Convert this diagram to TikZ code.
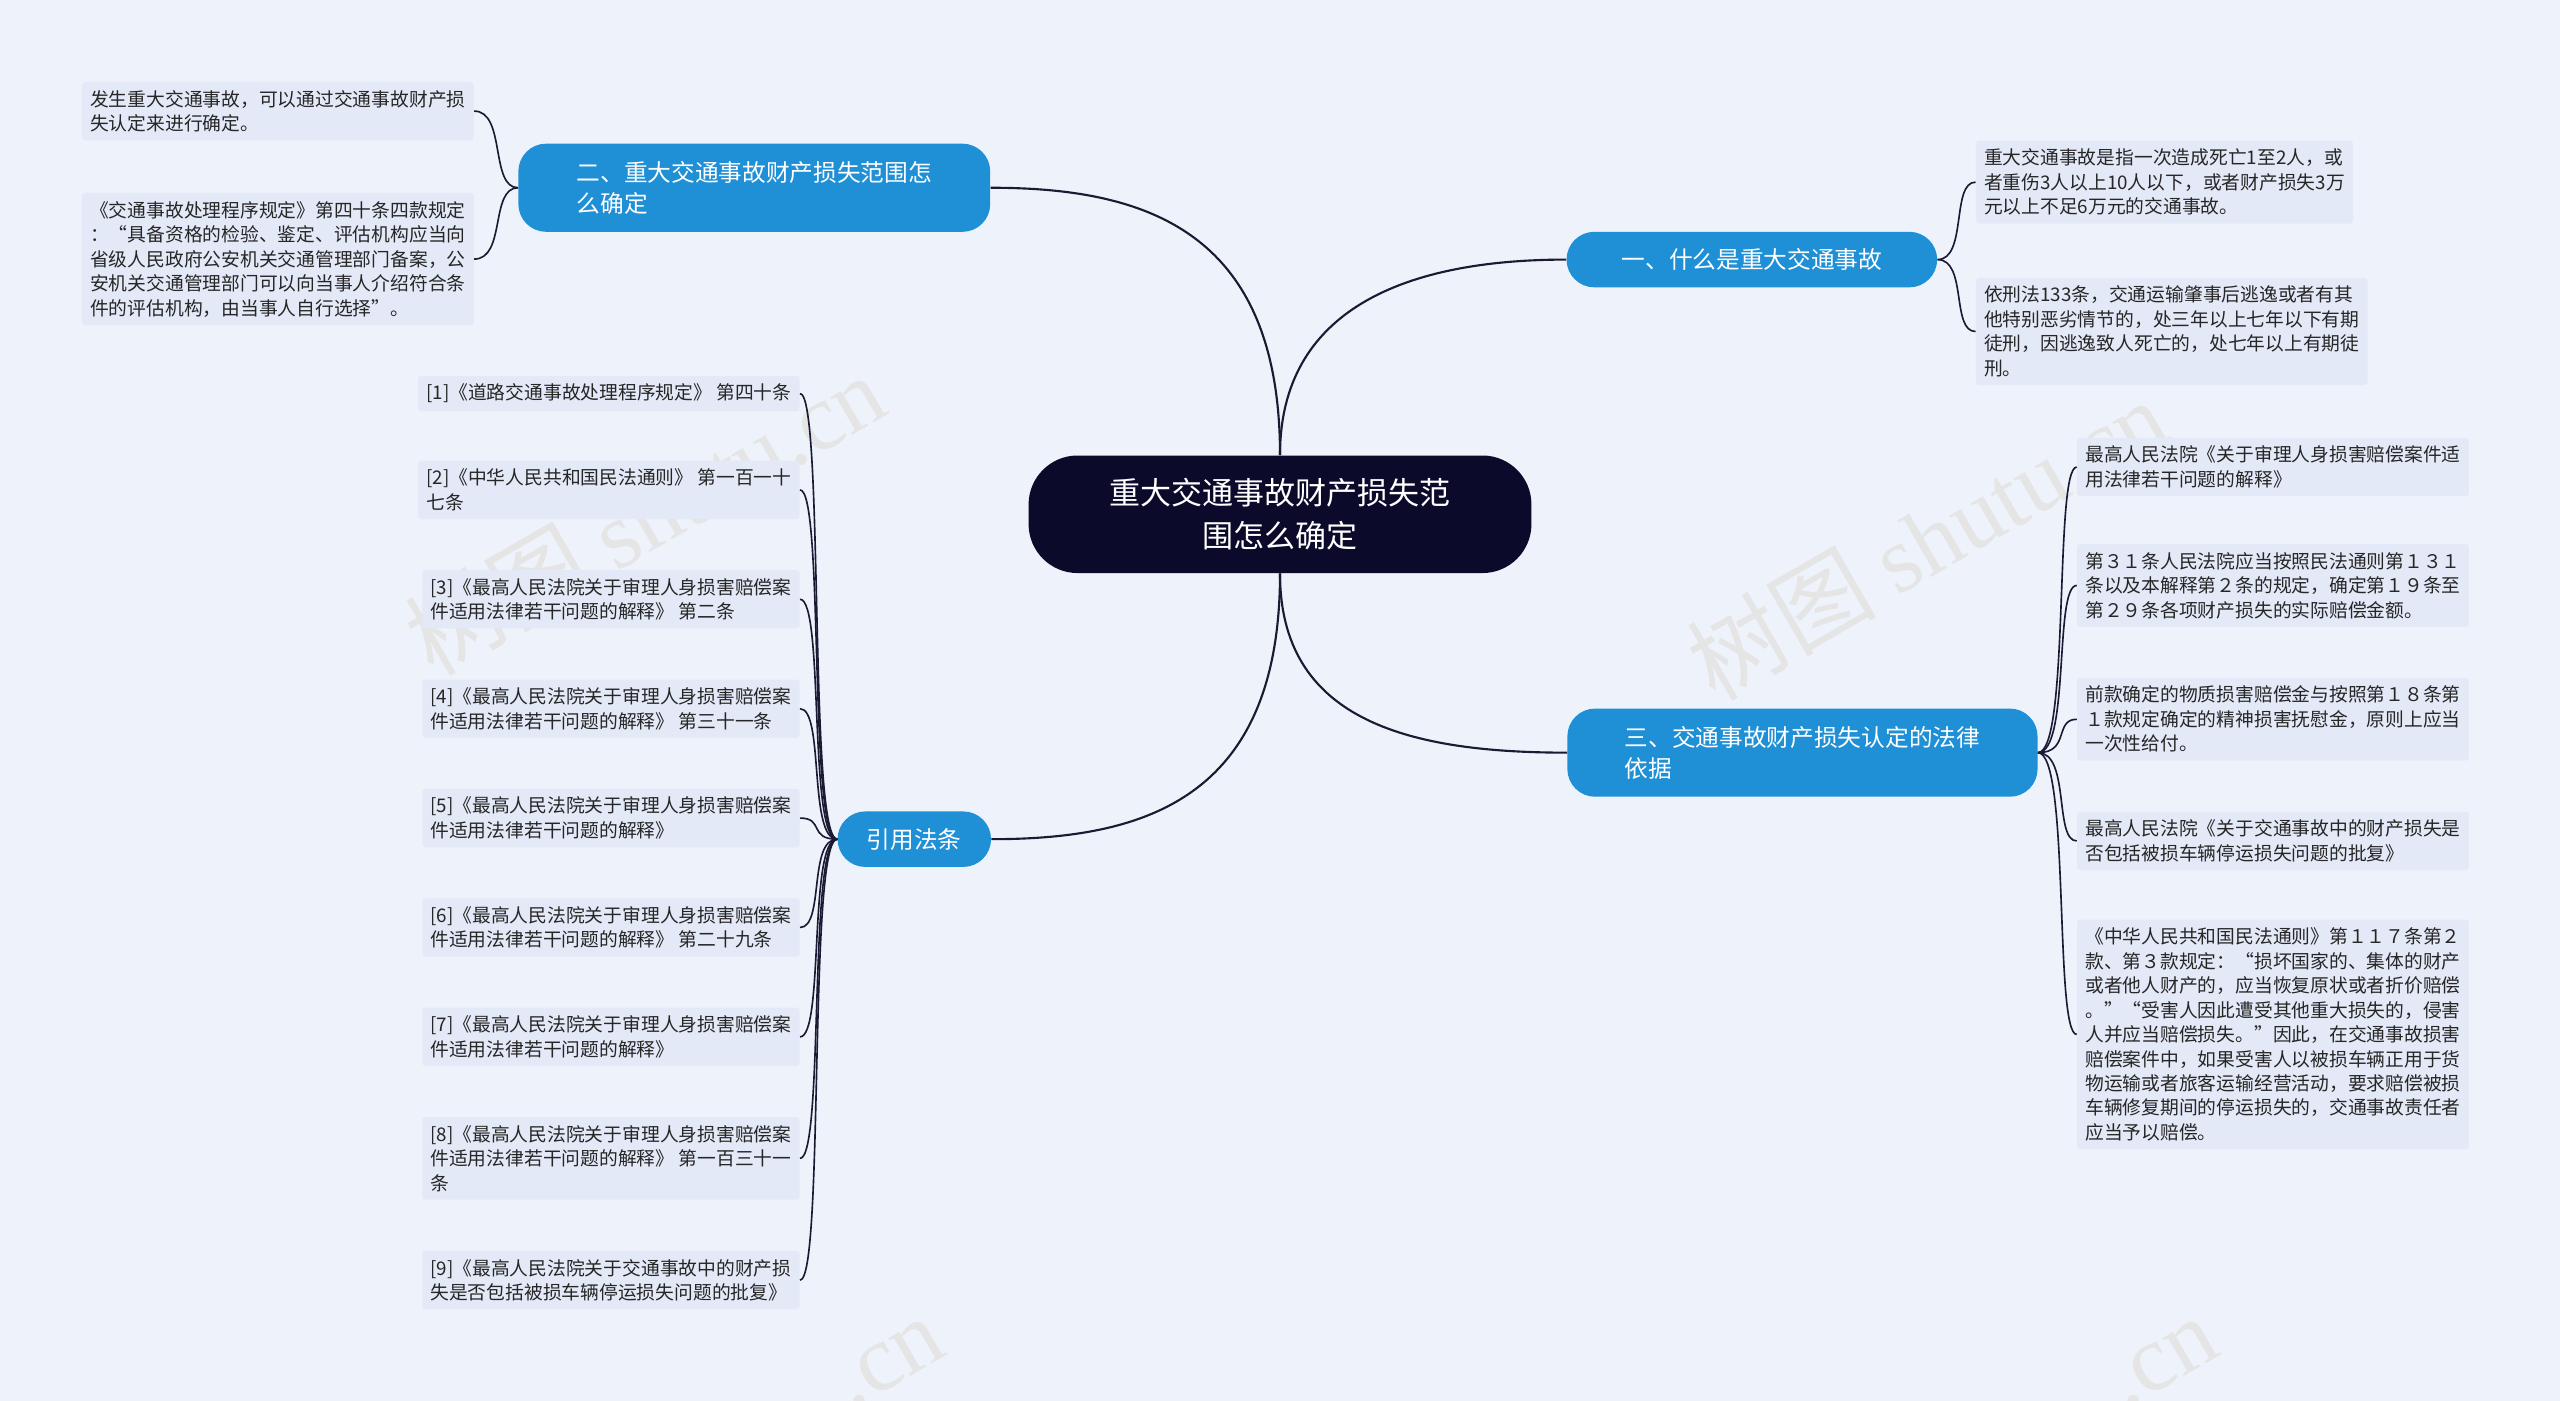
\documentclass[tikz,border=0pt]{standalone}
\usepackage{fontspec}
\setmainfont{Noto Sans CJK SC}
\newfontfamily\wmfont{Liberation Serif}
\begin{document}
\begin{tikzpicture}[x=1pt,y=-1pt,
 leaf/.style={fill=leafbg,rounded corners=2pt,align=left,anchor=north west,inner xsep=5pt,inner ysep=5pt,font=\fontsize{11.5}{15}\selectfont,text=black!85},
 br/.style={fill=brblue,rounded corners=17pt,text=white,align=left,font=\fontsize{14.5}{19}\selectfont,inner xsep=14pt,inner ysep=6pt},
 con/.style={draw=linec,line width=1.3pt},
 lc/.style={draw=linec,line width=1pt},
 wm/.style={rotate=30,text=gray!20,font=\fontsize{58}{58}\selectfont}]
\definecolor{bgc}{HTML}{EEF2FB}
\definecolor{leafbg}{HTML}{E3E9F7}
\definecolor{brblue}{HTML}{1F8FD6}
\definecolor{cdark}{HTML}{0C0A2B}
\definecolor{linec}{HTML}{1A1A33}
\fill[bgc] (0,0) rectangle (1568,858);
\useasboundingbox (0,0) rectangle (1568,858);
\foreach \x/\y in {395/315,1180/330}
 \node[wm] at (\x,\y) {树图 {\wmfont shutu.cn}};
\node[wm] at (545,835) {{\wmfont .cn}};
\node[wm] at (1325,835) {{\wmfont .cn}};
% center
\node[fill=cdark,rounded corners=30pt,text=white,align=center,font=\fontsize{19}{26}\selectfont,minimum width=308pt,minimum height=72pt] (c) at (784,315) {重大交通事故财产损失范\\围怎么确定};
% branches
\node[br,minimum width=227pt,minimum height=34pt] (b1) at (1073,159) {一、什么是重大交通事故};
\node[br,minimum width=289pt,minimum height=54pt] (b2) at (462,115) {二、重大交通事故财产损失范围怎\\么确定};
\node[br,minimum width=288pt,minimum height=54pt] (b3) at (1104,461) {三、交通事故财产损失认定的法律\\依据};
\node[br,minimum width=94pt,minimum height=34pt] (b4) at (560,514) {引用法条};
\draw[con] (c.north) .. controls (784,190) and (860,159) .. (b1.west);
\draw[con] (c.north) .. controls (784,140) and (700,115) .. (b2.east);
\draw[con] (c.south) .. controls (784,440) and (860,461) .. (b3.west);
\draw[con] (c.south) .. controls (784,490) and (700,514) .. (b4.east);
% leaves of 1
\node[leaf] (a1) at (1210,86) {重大交通事故是指一次造成死亡1至2人，或\\者重伤3人以上10人以下，或者财产损失3万\\元以上不足6万元的交通事故。};
\node[leaf] (a2) at (1210,170) {依刑法133条，交通运输肇事后逃逸或者有其\\他特别恶劣情节的，处三年以上七年以下有期\\徒刑，因逃逸致人死亡的，处七年以上有期徒\\刑。};
\foreach \n in {a1,a2} \draw[lc] (b1.east) .. controls (1205,159) and (1195,0|-\n.west) .. (\n.west);
% leaves of 2
\node[leaf] (l1) at (50,50) {发生重大交通事故，可以通过交通事故财产损\\失认定来进行确定。};
\node[leaf] (l2) at (50,118) {《交通事故处理程序规定》第四十条四款规定\\：“具备资格的检验、鉴定、评估机构应当向\\省级人民政府公安机关交通管理部门备案，公\\安机关交通管理部门可以向当事人介绍符合条\\件的评估机构，由当事人自行选择”。};
\foreach \n in {l1,l2} \draw[lc] (b2.west) .. controls (300,115) and (310,0|-\n.east) .. (\n.east);
% leaves of 3
\node[leaf] (r1) at (1272,268) {最高人民法院《关于审理人身损害赔偿案件适\\用法律若干问题的解释》};
\node[leaf] (r2) at (1272,333) {第３１条人民法院应当按照民法通则第１３１\\条以及本解释第２条的规定，确定第１９条至\\第２９条各项财产损失的实际赔偿金额。};
\node[leaf] (r3) at (1272,415) {前款确定的物质损害赔偿金与按照第１８条第\\１款规定确定的精神损害抚慰金，原则上应当\\一次性给付。};
\node[leaf] (r4) at (1272,497) {最高人民法院《关于交通事故中的财产损失是\\否包括被损车辆停运损失问题的批复》};
\node[leaf] (r5) at (1272,563) {《中华人民共和国民法通则》第１１７条第２\\款、第３款规定：“损坏国家的、集体的财产\\或者他人财产的，应当恢复原状或者折价赔偿\\。”“受害人因此遭受其他重大损失的，侵害\\人并应当赔偿损失。”因此，在交通事故损害\\赔偿案件中，如果受害人以被损车辆正用于货\\物运输或者旅客运输经营活动，要求赔偿被损\\车辆修复期间的停运损失的，交通事故责任者\\应当予以赔偿。};
\foreach \n in {r1,r2,r3,r4,r5} \draw[lc] (b3.east) .. controls (1268,461) and (1258,0|-\n.west) .. (\n.west);
% leaves of 4
\node[leaf,anchor=north east] (f1) at (490,230) {[1]《道路交通事故处理程序规定》 第四十条};
\node[leaf,anchor=north east] (f2) at (490,282) {[2]《中华人民共和国民法通则》 第一百一十\\七条\phantom{中华人民共和国民法通则》第一百一十}};
\node[leaf,anchor=north east] (f3) at (490,349) {[3]《最高人民法院关于审理人身损害赔偿案\\件适用法律若干问题的解释》 第二条};
\node[leaf,anchor=north east] (f4) at (490,416) {[4]《最高人民法院关于审理人身损害赔偿案\\件适用法律若干问题的解释》 第三十一条};
\node[leaf,anchor=north east] (f5) at (490,483) {[5]《最高人民法院关于审理人身损害赔偿案\\件适用法律若干问题的解释》};
\node[leaf,anchor=north east] (f6) at (490,550) {[6]《最高人民法院关于审理人身损害赔偿案\\件适用法律若干问题的解释》 第二十九条};
\node[leaf,anchor=north east] (f7) at (490,617) {[7]《最高人民法院关于审理人身损害赔偿案\\件适用法律若干问题的解释》};
\node[leaf,anchor=north east] (f8) at (490,684) {[8]《最高人民法院关于审理人身损害赔偿案\\件适用法律若干问题的解释》 第一百三十一\\条};
\node[leaf,anchor=north east] (f9) at (490,766) {[9]《最高人民法院关于交通事故中的财产损\\失是否包括被损车辆停运损失问题的批复》};
\foreach \n in {f1,f2,f3,f4,f5,f6,f7,f8,f9} \draw[lc] (b4.west) .. controls (495,514) and (505,0|-\n.east) .. (\n.east);
\end{tikzpicture}
\end{document}
